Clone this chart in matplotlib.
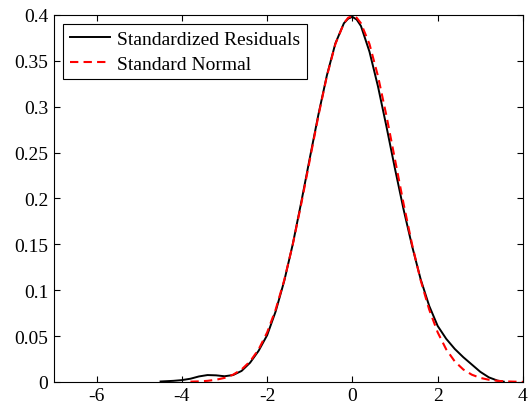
import numpy as np
import matplotlib
matplotlib.use('Agg')
import matplotlib.pyplot as plt

# kernel density of the standardized residuals
resid_x = [-4.5, -4.2, -4.0, -3.8, -3.6, -3.4, -3.2, -3.0, -2.8, -2.6, -2.4, -2.2,
           -2.0, -1.8, -1.6, -1.4, -1.2, -1.0, -0.8, -0.6, -0.4, -0.2, -0.1, 0.0, 0.1, 0.2,
           0.4, 0.6, 0.8, 1.0, 1.2, 1.4, 1.6, 1.8, 2.0, 2.2, 2.4, 2.6, 2.8, 3.0,
           3.2, 3.4, 3.55]
resid_y = [0.0005, 0.0012, 0.002, 0.0035, 0.006, 0.0075, 0.0072, 0.0062, 0.0075, 0.012, 0.021, 0.034,
           0.051, 0.077, 0.11, 0.15, 0.196, 0.244, 0.291, 0.334, 0.369, 0.391, 0.396, 0.398, 0.395, 0.388,
           0.36, 0.322, 0.278, 0.232, 0.188, 0.148, 0.112, 0.083, 0.061, 0.047, 0.036, 0.027, 0.019, 0.011,
           0.005, 0.0015, 0.0003]

# standard normal density
norm_x = [-3.8, -3.6, -3.4, -3.2, -3.0, -2.8, -2.6, -2.4, -2.2, -2.0, -1.8, -1.6,
          -1.4, -1.2, -1.0, -0.8, -0.6, -0.4, -0.2, -0.1, 0.0, 0.1, 0.2, 0.4, 0.6, 0.8,
          1.0, 1.2, 1.4, 1.6, 1.8, 2.0, 2.2, 2.4, 2.6, 2.8, 3.0, 3.2, 3.4, 3.6,
          3.8, 4.0]
norm_y = [0.0003, 0.0006, 0.0012, 0.0024, 0.0044, 0.0079, 0.0136, 0.0224, 0.0355, 0.054, 0.079, 0.1109,
          0.1497, 0.1942, 0.242, 0.2897, 0.3332, 0.3683, 0.391, 0.3970, 0.3989, 0.3970, 0.391, 0.3683, 0.3332, 0.2897,
          0.242, 0.1942, 0.1497, 0.1109, 0.079, 0.054, 0.0355, 0.0224, 0.0136, 0.0079, 0.0044, 0.0024, 0.0012, 0.0006,
          0.0003, 0.0001]

xticks = [-6, -4, -2, 0, 2, 4]
yticks = [0, 0.05, 0.1, 0.15, 0.2, 0.25, 0.3, 0.35, 0.4]
ytick_labels = ['0', '0.05', '0.1', '0.15', '0.2', '0.25', '0.3', '0.35', '0.4']

plt.rcParams['font.family'] = ['Liberation Serif', 'DejaVu Serif']
plt.rcParams['font.size'] = 14
plt.rcParams['axes.unicode_minus'] = False

fig = plt.figure(figsize=(5.32, 4.10), dpi=100)
ax = fig.add_axes([0.1015, 0.066, 0.8815, 0.895])

ax.plot(resid_x, resid_y, color='black', lw=1.4, label='Standardized Residuals')
ax.plot(norm_x, norm_y, color='red', lw=1.5, ls=(0, (4, 2.5)), label='Standard Normal')

ax.set_xlim(-7, 4)
ax.set_ylim(0, 0.4)
ax.set_xticks(xticks)
ax.set_yticks(yticks)
ax.set_yticklabels(ytick_labels)
ax.tick_params(direction='in', top=True, right=True, length=4, width=0.8, labelsize=14, pad=4)
for s in ax.spines.values():
    s.set_linewidth(0.8)

leg = ax.legend(loc='upper left', fancybox=False, framealpha=1, edgecolor='black',
                handlelength=2.1, borderpad=0.35, labelspacing=0.35, handletextpad=0.35,
                borderaxespad=0.45, fontsize=14)
leg.get_frame().set_linewidth(0.8)

fig.savefig('out.png', dpi=100)
